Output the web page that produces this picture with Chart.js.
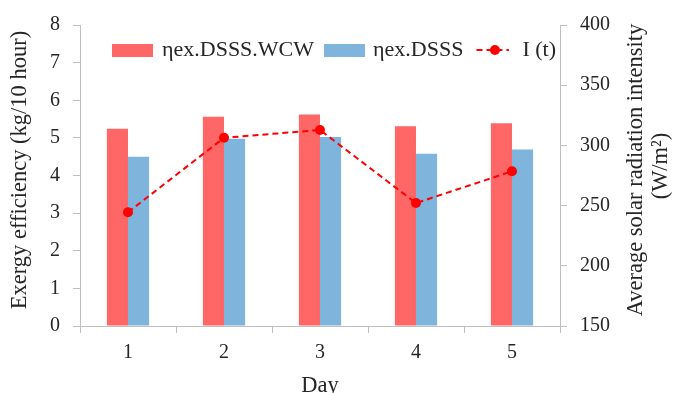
<!DOCTYPE html>
<html>
<head>
<meta charset="utf-8">
<script src="https://cdn.jsdelivr.net/npm/chart.js@4/dist/chart.umd.min.js"></script>
<style>
    html, body { margin: 0; padding: 0; background: #fff; }
    #wrap { width: 681px; height: 393px; }
</style>
</head>
<body>
<div id="wrap"><canvas id="canvas1"></canvas></div>
<script>
// Data
var days = ['1', '2', '3', '4', '5'];
var exergyWCW = [5.24, 5.56, 5.62, 5.31, 5.39];     // ηex.DSSS.WCW
var exergyDSSS = [4.50, 4.98, 5.02, 4.58, 4.69];    // ηex.DSSS
var radiation = [244.5, 306.3, 312.8, 252.1, 278.5]; // I (t), W/m2
var seriesNames = ['ηex.DSSS.WCW', 'ηex.DSSS', 'I (t)'];
var leftRange = [0, 8, 1];
var rightRange = [150, 400, 50];
var xTitle = 'Day';
var leftTitle = 'Exergy efficiency (kg/10 hour)';
var rightTitle = ['Average solar radiation intensity', '(W/m\u00B2)'];

var red = 'rgb(255,102,102)';
var blue = 'rgb(127,180,220)';
var lineRed = 'rgb(255,0,0)';
var axisGray = '#bfbfbf';
var textColor = '#262626';
var serif = '"Liberation Serif", "Times New Roman", serif';

// legend symbols drawn on small canvases
function boxSymbol(color) {
    var c = document.createElement('canvas');
    c.width = 41; c.height = 13;
    var g = c.getContext('2d');
    g.fillStyle = color;
    g.fillRect(0, 0, 41, 13);
    return c;
}
function lineSymbol() {
    var c = document.createElement('canvas');
    c.width = 41; c.height = 12;
    var g = c.getContext('2d');
    g.strokeStyle = lineRed;
    g.lineWidth = 2;
    g.setLineDash([6, 4]);
    g.beginPath();
    g.moveTo(3.5, 6); g.lineTo(36, 6);
    g.stroke();
    g.fillStyle = lineRed;
    g.beginPath();
    g.arc(22, 6, 5, 0, Math.PI * 2);
    g.fill();
    return c;
}
var symbols = [boxSymbol(red), boxSymbol(blue), lineSymbol()];

function vText(ctx, text, x, y) {
    ctx.save();
    ctx.translate(x, y);
    ctx.rotate(-Math.PI / 2);
    ctx.fillText(text, 0, 0);
    ctx.restore();
}

// legend sits inside the plot, over the bars
var legendInside = {
    id: 'legendInside',
    afterLayout: function (chart) {
        var lg = chart.legend;
        lg.top = 27;
        lg.bottom = lg.top + 40;
        lg.left -= 5;
        lg.right -= 5;
    }
};

var axisTitles = {
    id: 'axisTitles',
    afterDraw: function (chart) {
        var ctx = chart.ctx;
        ctx.save();
        ctx.fillStyle = textColor;
        ctx.font = '22.5px ' + serif;
        ctx.textAlign = 'center';
        ctx.textBaseline = 'middle';
        vText(ctx, leftTitle, 20, 170);
        vText(ctx, rightTitle[0], 636, 170);
        vText(ctx, rightTitle[1], 661, 166);
        ctx.restore();
    }
};

var tickFont = { family: serif, size: 20 };

var config = {
    type: 'bar',
    data: {
        labels: days,
        datasets: [{
            label: seriesNames[0],
            data: exergyWCW,
            backgroundColor: red,
            yAxisID: 'y',
            order: 1
        }, {
            label: seriesNames[1],
            data: exergyDSSS,
            backgroundColor: blue,
            yAxisID: 'y',
            order: 1
        }, {
            type: 'line',
            label: seriesNames[2],
            data: radiation,
            borderColor: lineRed,
            backgroundColor: lineRed,
            borderWidth: 2,
            borderDash: [6, 4],
            pointRadius: 5,
            pointBorderWidth: 0,
            pointBackgroundColor: lineRed,
            tension: 0,
            yAxisID: 'y1',
            order: 0
        }]
    },
    options: {
        responsive: true,
        maintainAspectRatio: false,
        animation: false,
        categoryPercentage: 0.44,
        barPercentage: 1,
        layout: { padding: 0 },
        plugins: {
            tooltip: { enabled: false },
            legend: {
                position: 'top',
                maxHeight: 20,
                labels: {
                    usePointStyle: true,
                    pointStyleWidth: 36,
                    padding: 12,
                    color: textColor,
                    font: { family: serif, size: 22 },
                    sort: function (a, b) { return a.datasetIndex - b.datasetIndex; },
                    generateLabels: function (chart) {
                        var items = Chart.defaults.plugins.legend.labels.generateLabels(chart);
                        items.forEach(function (it) {
                            it.pointStyle = symbols[it.datasetIndex];
                        });
                        return items;
                    }
                }
            }
        },
        scales: {
            x: {
                offset: true,
                grid: { display: true, offset: true, drawOnChartArea: false, tickLength: 7, color: axisGray },
                border: { color: axisGray },
                ticks: { font: tickFont, color: textColor, padding: 8 },
                title: { display: true, text: xTitle, font: { family: serif, size: 22.5 }, color: textColor, padding: { top: 0, bottom: -7 } },
                afterFit: function (s) { s.height = 67; }
            },
            y: {
                position: 'left',
                min: leftRange[0], max: leftRange[1],
                ticks: { stepSize: leftRange[2], font: tickFont, color: textColor, padding: 13 },
                grid: { drawOnChartArea: false, tickLength: 7, color: axisGray },
                border: { color: axisGray },
                afterFit: function (s) { s.width = 80; }
            },
            y1: {
                position: 'right',
                min: rightRange[0], max: rightRange[1],
                ticks: { stepSize: rightRange[2], font: tickFont, color: textColor, padding: 13 },
                grid: { drawOnChartArea: false, tickLength: 7, color: axisGray },
                border: { color: axisGray },
                afterFit: function (s) { s.width = 121; }
            }
        }
    },
    plugins: [legendInside, axisTitles]
};

var ctx = document.getElementById('canvas1').getContext('2d');
var chart = new Chart(ctx, config);
</script>
</body>
</html>
